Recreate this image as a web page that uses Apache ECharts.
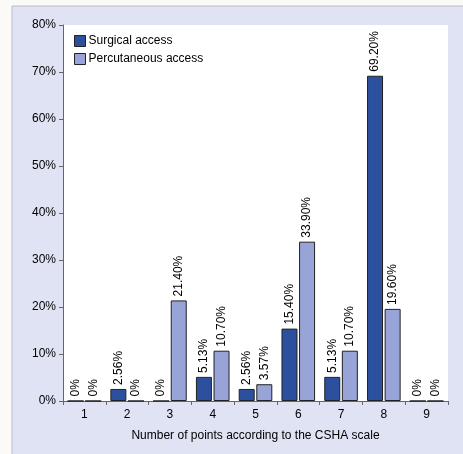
<!DOCTYPE html>
<html><head><meta charset="utf-8">
<script src="https://cdn.jsdelivr.net/npm/echarts@6/dist/echarts.min.js"></script>
<style>html,body{margin:0;padding:0;background:#fbfaf6;}#c{width:463px;height:454px;}</style>
</head><body><div id="c"></div>
<script>
const categories = ['1','2','3','4','5','6','7','8','9'];
const surgical = [0, 2.56, 0, 5.13, 2.56, 15.40, 5.13, 69.20, 0];
const surgicalLabels = ['0%','2.56%','0%','5.13%','2.56%','15.40%','5.13%','69.20%','0%'];
const percutaneous = [0, 0, 21.40, 10.70, 3.57, 33.90, 10.70, 19.60, 0];
const percutaneousLabels = ['0%','0%','21.40%','10.70%','3.57%','33.90%','10.70%','19.60%','0%'];
const yTicks = [0,10,20,30,40,50,60,70,80];

const font = 'Liberation Sans, Arial, sans-serif';
const chart = echarts.init(document.getElementById('c'));
function lbl(arr){
  return {show:true, position:'top', rotate:90, align:'left', verticalAlign:'middle', distance:4,
    fontFamily:font, fontSize:12, color:'#000',
    formatter: p => arr[p.dataIndex]};
}
chart.setOption({
  animation:false,
  graphic:[{type:'rect', shape:{x:12, y:6, width:460, height:460}, style:{fill:'#dfe3f3', stroke:'#b8bccb', lineWidth:1}, z:-10}],
  legend:{left:69, top:30, orient:'vertical', icon:'rect', itemWidth:11, itemHeight:11, itemGap:6,
    textStyle:{fontFamily:font, fontSize:12, color:'#000', padding:[0,0,0,-2]},
    itemStyle:{borderColor:'#222', borderWidth:1},
    data:['Surgical access','Percutaneous access']},
  grid:{left:63, right:15, top:25, bottom:53, show:true, backgroundColor:'#ffffff', borderWidth:0},
  xAxis:{type:'category', data:categories, boundaryGap:true,
    name:'Number of points according to the CSHA scale', nameLocation:'middle', nameGap:29,
    nameTextStyle:{fontFamily:font, fontSize:12, color:'#000'},
    axisLine:{lineStyle:{color:'#666'}}, axisTick:{show:true, length:4, lineStyle:{color:'#666'}},
    axisLabel:{fontFamily:font, fontSize:12, color:'#000', margin:8}},
  yAxis:{type:'value', min:0, max:80, interval:10, splitLine:{show:false},
    axisLine:{show:true, lineStyle:{color:'#666'}}, axisTick:{show:true, length:4, lineStyle:{color:'#666'}},
    axisLabel:{fontFamily:font, fontSize:12, color:'#000', margin:7, formatter: v => v + '%'}},
  series:[
    {name:'Surgical access', type:'bar', data:surgical, barWidth:16, barGap:'10%',
      itemStyle:{color:'#2c4f9e', borderColor:'#222', borderWidth:1}, label:lbl(surgicalLabels)},
    {name:'Percutaneous access', type:'bar', data:percutaneous, barWidth:16,
      itemStyle:{color:'#98a3d8', borderColor:'#222', borderWidth:1}, label:lbl(percutaneousLabels)}
  ]
});
</script></body></html>
